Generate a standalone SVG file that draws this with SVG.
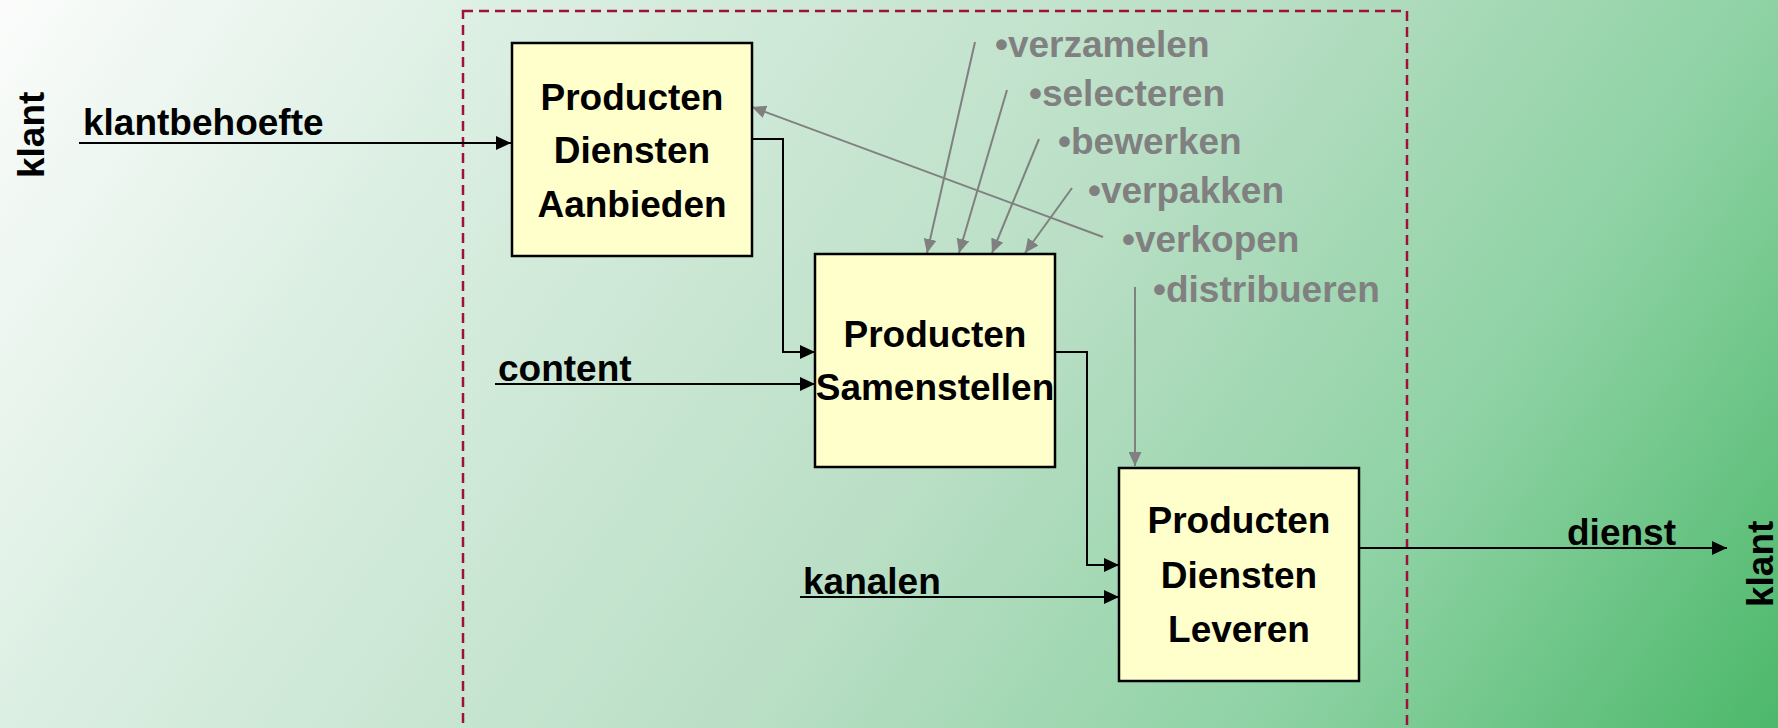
<svg xmlns="http://www.w3.org/2000/svg" width="1778" height="728" viewBox="0 0 1778 728">
  <defs>
    <linearGradient id="bg" gradientUnits="userSpaceOnUse" x1="0" y1="0" x2="1527" y2="1082">
      <stop offset="0" stop-color="#FBFCFB"/>
      <stop offset="0.225" stop-color="#DCEFE3"/>
      <stop offset="0.557" stop-color="#B8DEC4"/>
      <stop offset="0.775" stop-color="#8ED2A4"/>
      <stop offset="1" stop-color="#4CB86A"/>
    </linearGradient>
    <marker id="ah" markerUnits="userSpaceOnUse" markerWidth="15" markerHeight="14" refX="15" refY="7" orient="auto">
      <path d="M0,0 L15,7 L0,14 z" fill="#000"/>
    </marker>
    <marker id="ahg" markerUnits="userSpaceOnUse" markerWidth="14" markerHeight="13" refX="14" refY="6.5" orient="auto">
      <path d="M0,0 L14,6.5 L0,13 z" fill="#808080"/>
    </marker>
    <style>
      text { font-family: "Liberation Sans", Arial, sans-serif; font-weight: bold; font-size: 37px; }
      .lbl { fill: #000; }
      .act { fill: #808080; }
      .box rect { fill: #FFFFCC; stroke: #000; stroke-width: 2.5; }
      .box text { text-anchor: middle; fill: #000; }
      .flow { fill: none; stroke: #000; stroke-width: 2; marker-end: url(#ah); }
      .ctl { fill: none; stroke: #808080; stroke-width: 2; marker-end: url(#ahg); }
    </style>
  </defs>

  <!-- background -->
  <rect x="0" y="0" width="1778" height="728" fill="url(#bg)"/>

  <!-- system boundary -->
  <rect x="463" y="11" width="944" height="740" fill="none" stroke="#A0103C" stroke-width="2.5" stroke-dasharray="10 6"/>

  <!-- connectors -->
  <g id="connectors">
    <path class="flow" d="M79,143 H511"/>
    <path class="flow" d="M752,139 H783 V352 H815"/>
    <path class="flow" d="M495,384 H815"/>
    <path class="flow" d="M1055,352 H1087 V565 H1119"/>
    <path class="flow" d="M800,597 H1119"/>
    <path class="flow" d="M1359,548 H1727"/>
    <path class="ctl" d="M975,42 L927,253"/>
    <path class="ctl" d="M1007,90 L959,253"/>
    <path class="ctl" d="M1039,139 L992,253"/>
    <path class="ctl" d="M1072,188 L1025,253"/>
    <path class="ctl" d="M1103,237 L752,107"/>
    <path class="ctl" d="M1135,287 V466"/>
  </g>

  <!-- nodes -->
  <g id="aanbieden" class="box">
    <rect x="512" y="43" width="240" height="213"/>
    <text x="632" y="110">Producten</text>
    <text x="632" y="163">Diensten</text>
    <text x="632" y="217">Aanbieden</text>
  </g>
  <g id="samenstellen" class="box">
    <rect x="815" y="254" width="240" height="213"/>
    <text x="935" y="347">Producten</text>
    <text x="935" y="400">Samenstellen</text>
  </g>
  <g id="leveren" class="box">
    <rect x="1119" y="468" width="240" height="213"/>
    <text x="1239" y="533">Producten</text>
    <text x="1239" y="588">Diensten</text>
    <text x="1239" y="642">Leveren</text>
  </g>

  <!-- external party -->
  <g id="klant-in">
    <text class="lbl" transform="translate(44,178) rotate(-90)">klant</text>
  </g>
  <g id="klant-out">
    <text class="lbl" transform="translate(1773,607) rotate(-90)">klant</text>
  </g>

  <!-- flow labels -->
  <g id="flow-labels">
    <text class="lbl" x="83" y="135">klantbehoefte</text>
    <text class="lbl" x="498" y="381">content</text>
    <text class="lbl" x="803" y="594">kanalen</text>
    <text class="lbl" x="1567" y="545">dienst</text>
  </g>

  <!-- activities -->
  <g id="activities">
    <text class="act" x="995" y="57">•verzamelen</text>
    <text class="act" x="1029" y="106">•selecteren</text>
    <text class="act" x="1058" y="154">•bewerken</text>
    <text class="act" x="1088" y="203">•verpakken</text>
    <text class="act" x="1122" y="252">•verkopen</text>
    <text class="act" x="1153" y="302">•distribueren</text>
  </g>
</svg>
